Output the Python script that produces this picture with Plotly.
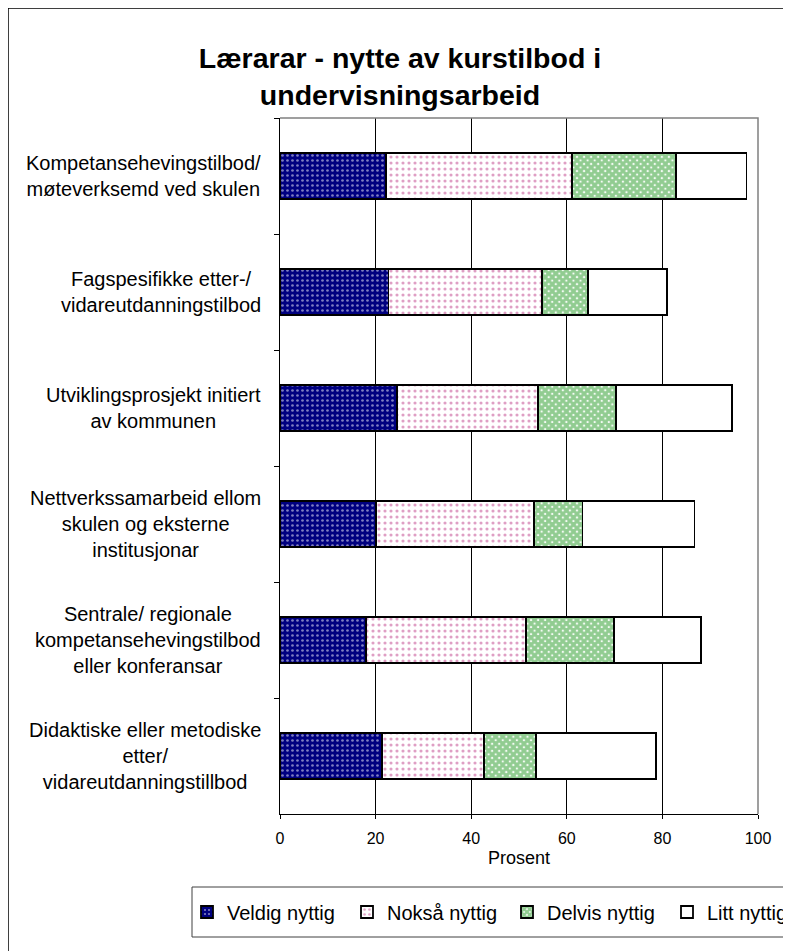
import plotly.graph_objects as go

# categories (top to bottom) and series, percent
categories = [
    "Kompetansehevingstilbod/<br>møteverksemd ved skulen",
    "Fagspesifikke etter-/<br>vidareutdanningstilbod",
    "Utviklingsprosjekt initiert<br>av kommunen",
    "Nettverkssamarbeid ellom<br>skulen og eksterne<br>institusjonar",
    "Sentrale/ regionale<br>kompetansehevingstilbod<br>eller konferansar",
    "Didaktiske eller metodiske<br>etter/<br>vidareutdanningstillbod",
]
veldig = [22.2, 22.7, 24.4, 20.1, 18.0, 21.3]
noksaa = [38.9, 32.1, 29.5, 33.0, 33.5, 21.3]
delvis = [21.7, 9.7, 16.4, 10.2, 18.4, 11.0]
litt = [14.8, 16.4, 24.3, 23.4, 18.1, 25.1]

series_names = ["Veldig nyttig", "Nokså nyttig", "Delvis nyttig", "Litt nyttig"]
x_ticks = [0, 20, 40, 60, 80, 100]

# page body has an 8px margin, so the figure is drawn 8px smaller
OFF = 8
W, H = 791 - OFF, 951 - OFF
# margins given in window pixels of the reference
ML, MR, MT, MB = 280 - OFF, 791 - 758, 118 - OFF, 951 - 814
PW, PH = W - ML - MR, H - MT - MB


def px_x(px):
    return (px - OFF - ML) / PW


def px_y(py):
    return (H - MB - (py - OFF)) / PH


FONT = "Liberation Sans, Arial, sans-serif"

patterns = [
    dict(shape=".", bgcolor="#000080", fgcolor="#ffffff", size=5, solidity=0.22),
    dict(shape=".", bgcolor="#ffffff", fgcolor="#c0408a", size=6, solidity=0.22),
    dict(shape="x", bgcolor="#ffffff", fgcolor="#239a23", size=5, solidity=0.85),
    dict(shape="", bgcolor="#ffffff", fgcolor="#ffffff"),
]
fills = ["#000080", "#ffffff", "#ffffff", "#ffffff"]

fig = go.Figure()
for name, vals, pat, col in zip(series_names, [veldig, noksaa, delvis, litt], patterns, fills):
    fig.add_trace(go.Bar(
        y=categories, x=vals, name=name, orientation="h",
        marker=dict(color=col, pattern=pat, line=dict(color="black", width=1.8)),
    ))

fig.update_layout(
    width=W, height=H,
    barmode="stack", bargap=0.6,
    margin=dict(l=ML, r=MR, t=MT, b=MB, autoexpand=False),
    paper_bgcolor="white", plot_bgcolor="white",
    font=dict(family=FONT, color="black"),
    title=dict(
        text="<b>Lærarar - nytte av kurstilbod i<br>undervisningsarbeid</b>",
        x=(400 - OFF) / W, xanchor="center", xref="container",
        y=1 - (68 - OFF) / H, yanchor="top", yref="container",
        font=dict(size=28.5, family=FONT, color="black"),
    ),
    showlegend=True,
    legend=dict(
        orientation="h", x=px_x(187), xanchor="left",
        y=px_y(912), yanchor="middle",
        font=dict(size=20, family=FONT),
        borderwidth=0, bgcolor="rgba(0,0,0,0)",
        traceorder="normal", itemwidth=30, entrywidth=115,
    ),
)

fig.update_xaxes(
    range=[0, 100], tickvals=x_ticks, ticktext=[str(v) for v in x_ticks],
    showgrid=True, gridcolor="black", gridwidth=1,
    showline=True, linecolor="black", linewidth=1,
    ticks="outside", ticklen=4, tickcolor="black",
    tickfont=dict(size=16, family=FONT), ticklabelstandoff=6,
    zeroline=False,
)
fig.update_yaxes(
    type="category", autorange="reversed",
    showticklabels=False, showgrid=False,
    showline=True, linecolor="black", linewidth=1,
    ticks="outside", ticklen=5, tickcolor="black", tickson="boundaries",
)

# category labels, lines centred inside each block
for c in categories:
    fig.add_annotation(
        x=px_x(263), xref="paper", xanchor="right",
        y=c, yref="y", yanchor="middle",
        text=c, align="center", showarrow=False,
        font=dict(size=20, family=FONT, color="black"),
    )

fig.add_annotation(
    x=0.5, xref="paper", y=px_y(858), yref="paper", yanchor="middle",
    text="Prosent", showarrow=False, font=dict(size=18, family=FONT, color="black"),
)

# grey frame on top/right of plot area
fig.add_shape(type="path", path="M0,1 L1,1 L1,0", xref="paper", yref="paper",
              line=dict(color="#808080", width=1.5), layer="above")
# legend box
fig.add_shape(type="rect", xref="paper", yref="paper",
              x0=px_x(192), x1=px_x(830), y0=px_y(937), y1=px_y(887),
              line=dict(color="#404040", width=1), layer="below")
# outer chart border
fig.add_shape(type="rect", xref="paper", yref="paper",
              x0=px_x(8), x1=px_x(830), y0=px_y(990), y1=px_y(8),
              line=dict(color="black", width=1.5), layer="below")

fig.write_html("out.html")
